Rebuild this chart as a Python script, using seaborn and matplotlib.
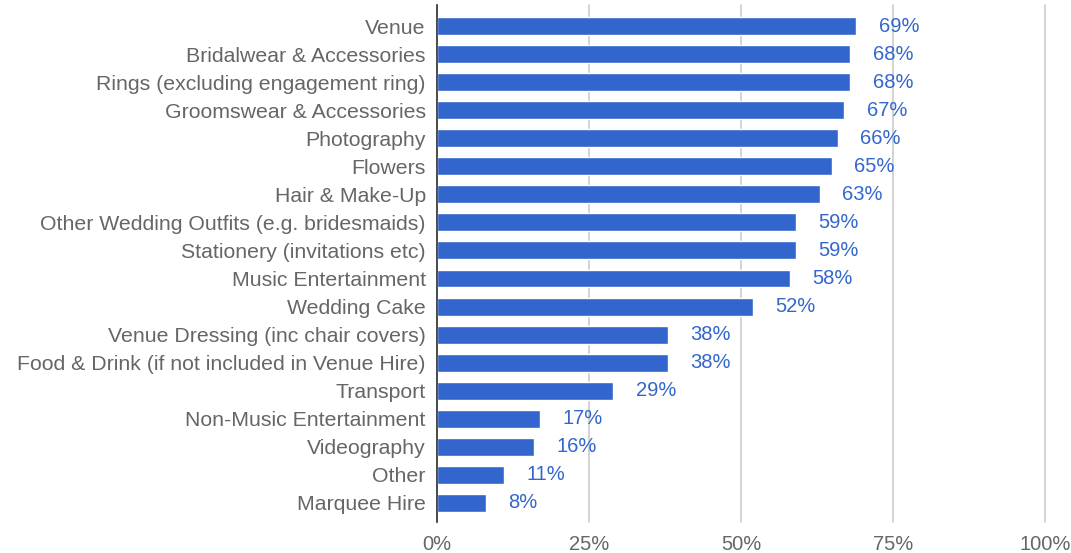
import matplotlib
matplotlib.use("Agg")
import matplotlib.pyplot as plt
import seaborn as sns
import pandas as pd
from matplotlib.ticker import FuncFormatter

categories = [
    "Venue",
    "Bridalwear & Accessories",
    "Rings (excluding engagement ring)",
    "Groomswear & Accessories",
    "Photography",
    "Flowers",
    "Hair & Make-Up",
    "Other Wedding Outfits (e.g. bridesmaids)",
    "Stationery (invitations etc)",
    "Music Entertainment",
    "Wedding Cake",
    "Venue Dressing (inc chair covers)",
    "Food & Drink (if not included in Venue Hire)",
    "Transport",
    "Non-Music Entertainment",
    "Videography",
    "Other",
    "Marquee Hire",
]
values = [69, 68, 68, 67, 66, 65, 63, 59, 59, 58, 52, 38, 38, 29, 17, 16, 11, 8]
x_ticks = [0, 25, 50, 75, 100]

df = pd.DataFrame({"category": categories, "value": values})

sns.set_theme(style="white")
plt.rcParams["font.family"] = ["Liberation Sans", "DejaVu Sans"]

BAR = "#3366cc"
TEXT = "#666666"

fig = plt.figure(figsize=(10.71, 5.53), dpi=100)
ax = fig.add_axes([0.408, 0.056, 0.5677, 0.935])

sns.barplot(data=df, y="category", x="value", orient="h", color=BAR,
            saturation=1, width=0.64, ax=ax)

for p, v in zip(ax.patches, values):
    ax.annotate(f"{v}%", (p.get_width(), p.get_y() + p.get_height() / 2),
                xytext=(16, 0), textcoords="offset points",
                ha="left", va="center", color=BAR, fontsize=14.5)

ax.set_xlim(0, 100)
ax.set_ylim(len(categories) - 0.32, -0.75)
ax.set_xticks(x_ticks)
ax.xaxis.set_major_formatter(FuncFormatter(lambda v, _: f"{v:.0f}%"))
ax.grid(axis="x", color="#cccccc", linewidth=1.2)
ax.set_axisbelow(True)
for gl in ax.get_xgridlines():
    gl.set_clip_on(False)
ax.set_xlabel("")
ax.set_ylabel("")

for s in ["top", "right", "bottom"]:
    ax.spines[s].set_visible(False)
ax.spines["left"].set_color("#333333")
ax.spines["left"].set_linewidth(1.2)
ax.spines["left"].set_zorder(5)

ax.tick_params(axis="y", length=0, pad=8, labelsize=15.3, labelcolor=TEXT)
ax.tick_params(axis="x", length=0, pad=9, labelsize=14.5, labelcolor=TEXT)

fig.savefig("out.png", dpi=100, facecolor="white")
